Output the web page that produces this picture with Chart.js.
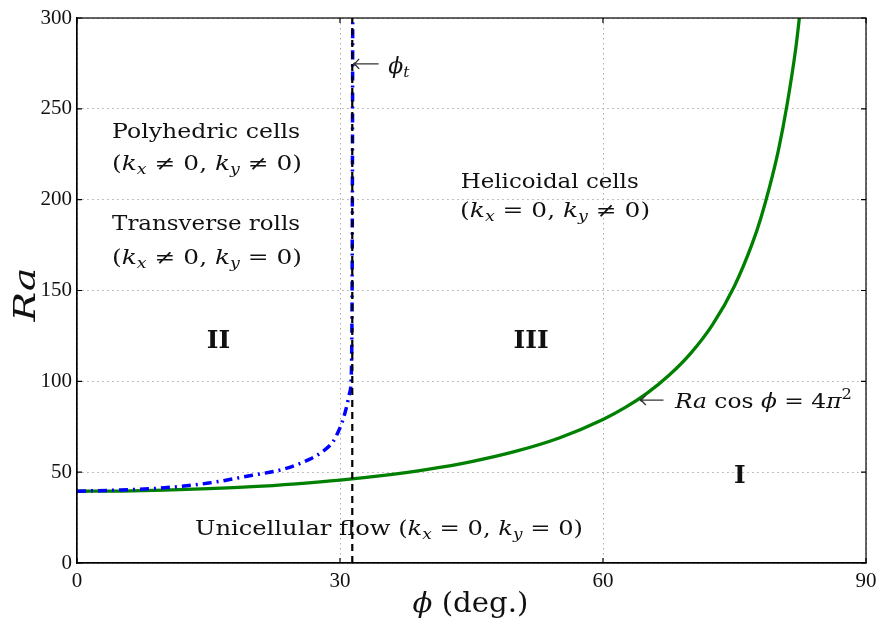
<!DOCTYPE html>
<html>
<head>
<meta charset="utf-8">
<script src="https://cdn.jsdelivr.net/npm/chart.js@4.4.0/dist/chart.umd.min.js"></script>
<style>
  html, body { margin: 0; padding: 0; background: #fff; }
  #wrap { width: 878px; height: 624px; }
</style>
</head>
<body>
<div id="wrap"><canvas id="chart" width="878" height="624"></canvas></div>
<script>
// neutral curve Ra cos(phi) = 4 pi^2
const phiNeutral = [0, 5, 10, 15, 20, 25, 30, 35, 40, 45, 50, 55, 60, 62.5, 65, 67.5, 70, 72.5, 75, 77, 78, 79, 80, 81, 82, 82.4];
const raNeutral  = [39.5, 39.6, 40.1, 40.9, 42.0, 43.6, 45.6, 48.2, 51.5, 55.8, 61.4, 68.8, 79.0, 85.5, 93.4, 103.2, 115.4, 131.2, 152.5, 175.5, 189.8, 207, 227, 252.4, 283.7, 300];

// transition curve (blue dash-dot)
const phiTrans = [0, 5, 10, 15, 20, 23.5, 26.5, 28, 29.2, 29.8, 30.2, 30.7, 31.1, 31.3, 31.38, 31.42, 31.45];
const raTrans  = [39.5, 40.2, 41.4, 44.0, 48.3, 51.6, 57.0, 61.3, 66.8, 72.3, 77.0, 85.0, 93.6, 105, 150, 220, 300];

// phi_t vertical line
const phiT = [31.4, 31.4];
const raT = [0, 300];

const xTicks = [0, 30, 60, 90];
const yTicks = [0, 50, 100, 150, 200, 250, 300];

const TXT = '"DejaVu Serif", serif';
const NUM = '"Liberation Serif", serif';

const toPts = (xs, ys) => xs.map((v, i) => ({ x: v, y: ys[i] }));

// draw a run of text pieces (italic / bold / sub / sup), optionally squeezed to a width
function rich(ctx, segs, x, y, size, width, align) {
  const fontOf = s => {
    const sz = (s.sub || s.sup) ? size * 0.7 : size;
    return (s.i ? 'italic ' : '') + (s.b ? 'bold ' : '') + sz + 'px ' + TXT;
  };
  let w = 0;
  segs.forEach(s => { ctx.font = fontOf(s); w += ctx.measureText(s.t).width; });
  const k = width ? width / w : 1;
  ctx.save();
  const x0 = align === 'center' ? x - w * k / 2 : x;
  ctx.translate(x0, y);
  ctx.scale(k, 1);
  let cx = 0;
  segs.forEach(s => {
    ctx.font = fontOf(s);
    const dy = s.sub ? size * 0.22 : (s.sup ? -size * 0.42 : 0);
    ctx.fillText(s.t, cx, dy);
    cx += ctx.measureText(s.t).width;
  });
  ctx.restore();
}

const kk = (a, b) => [
  { t: '(' }, { t: 'k', i: 1 }, { t: 'x', i: 1, sub: 1 }, { t: ' ' + a + ' 0, ' },
  { t: 'k', i: 1 }, { t: 'y', i: 1, sub: 1 }, { t: ' ' + b + ' 0)' }
];

function arrow(ctx, x1, x2, y) {
  ctx.save();
  ctx.strokeStyle = '#333';
  ctx.lineWidth = 1.3;
  ctx.beginPath();
  ctx.moveTo(x2, y); ctx.lineTo(x1, y);
  ctx.moveTo(x1 + 6, y - 5); ctx.quadraticCurveTo(x1 + 3, y - 1, x1, y);
  ctx.moveTo(x1 + 6, y + 5); ctx.quadraticCurveTo(x1 + 3, y + 1, x1, y);
  ctx.stroke();
  ctx.restore();
}

const decor = {
  id: 'decor',
  afterDraw(chart) {
    const { ctx, chartArea: a, scales: { x, y } } = chart;
    const X = v => x.getPixelForValue(v);
    const Y = v => y.getPixelForValue(v);
    ctx.save();
    // frame + inward ticks
    ctx.strokeStyle = '#000';
    ctx.lineWidth = 1.2;
    ctx.strokeRect(a.left, a.top, a.right - a.left, a.bottom - a.top);
    ctx.beginPath();
    xTicks.forEach(v => {
      ctx.moveTo(X(v), a.bottom); ctx.lineTo(X(v), a.bottom - 5);
      ctx.moveTo(X(v), a.top); ctx.lineTo(X(v), a.top + 5);
    });
    yTicks.forEach(v => {
      ctx.moveTo(a.left, Y(v)); ctx.lineTo(a.left + 5, Y(v));
      ctx.moveTo(a.right, Y(v)); ctx.lineTo(a.right - 5, Y(v));
    });
    ctx.stroke();

    ctx.fillStyle = '#111';
    ctx.textBaseline = 'alphabetic';
    ctx.textAlign = 'left';

    rich(ctx, [{ t: 'Polyhedric cells' }], X(4.0), Y(234), 20, 188);
    rich(ctx, kk('≠', '≠'), X(4.0), Y(216.3), 20, 190);
    rich(ctx, [{ t: 'Transverse rolls' }], X(4.0), Y(183.3), 20, 188);
    rich(ctx, kk('≠', '='), X(4.0), Y(164.6), 20, 190);
    rich(ctx, [{ t: 'Helicoidal cells' }], X(43.77), Y(206.3), 20, 178);
    rich(ctx, kk('=', '≠'), X(43.7), Y(190.5), 20, 190);
    rich(ctx, [{ t: 'Unicellular flow ' }].concat(kk('=', '=')), X(13.46), Y(15.4), 20, 388);

    rich(ctx, [{ t: 'II', b: 1 }], X(16.14), Y(118.3), 25, 0, 'center');
    rich(ctx, [{ t: 'III', b: 1 }], X(51.8), Y(118.3), 25, 0, 'center');
    rich(ctx, [{ t: 'I', b: 1 }], X(75.6), Y(44), 25, 0, 'center');

    arrow(ctx, X(31.5), X(34.4), Y(274.7));
    rich(ctx, [{ t: 'ϕ', i: 1 }, { t: 't', i: 1, sub: 1 }], X(35.5), Y(270), 22, 0);

    arrow(ctx, X(64.2), X(66.9), Y(89.7));
    rich(ctx, [{ t: 'Ra', i: 1 }, { t: ' cos ' }, { t: 'ϕ', i: 1 }, { t: ' = 4' }, { t: 'π', i: 1 }, { t: '2', sup: 1 }],
      X(68.2), Y(85.3), 21, 177);

    // axis titles
    rich(ctx, [{ t: 'ϕ', i: 1 }, { t: ' (deg.)' }], (a.left + a.right) / 2 - 1, 612, 27, 116, 'center');
    ctx.save();
    ctx.translate(35, (a.top + a.bottom) / 2 + 4);
    ctx.rotate(-Math.PI / 2);
    rich(ctx, [{ t: 'Ra', i: 1 }], 0, 0, 30, 54, 'center');
    ctx.restore();
    ctx.restore();
  }
};

new Chart(document.getElementById('chart'), {
  type: 'line',
  data: {
    datasets: [
      {
        data: toPts(phiT, raT),
        borderColor: '#000',
        borderWidth: 2.2,
        borderDash: [7, 5],
        pointRadius: 0,
        order: 0
      },
      {
        data: toPts(phiTrans, raTrans),
        borderColor: '#0000ff',
        borderWidth: 3.5,
        borderDash: [9, 5, 2, 5],
        cubicInterpolationMode: 'monotone',
        pointRadius: 0,
        order: 1
      },
      {
        data: toPts(phiNeutral, raNeutral),
        borderColor: '#008000',
        borderWidth: 3.3,
        cubicInterpolationMode: 'monotone',
        pointRadius: 0,
        order: 2
      }
    ]
  },
  options: {
    responsive: false,
    animation: false,
    layout: { padding: { top: 18, right: 12, left: 0, bottom: 0 } },
    plugins: { legend: { display: false }, tooltip: { enabled: false } },
    scales: {
      x: {
        type: 'linear',
        min: 0, max: 90,
        afterBuildTicks: s => { s.ticks = xTicks.map(v => ({ value: v })); },
        afterFit: s => { s.height = 61; s.paddingLeft = 0; s.paddingRight = 0; },
        grid: { color: '#aaa', lineWidth: 1, drawTicks: false },
        border: { display: true, color: '#000', width: 1.2, dash: [1.5, 3.5] },
        ticks: { color: '#111', font: { family: NUM, size: 21 }, padding: 6, maxRotation: 0 }
      },
      y: {
        type: 'linear',
        min: 0, max: 300,
        afterBuildTicks: s => { s.ticks = yTicks.map(v => ({ value: v })); },
        afterFit: s => { s.width = 77; s.paddingTop = 0; s.paddingBottom = 0; },
        grid: { color: '#aaa', lineWidth: 1, drawTicks: false },
        border: { display: true, color: '#000', width: 1.2, dash: [1.5, 3.5] },
        ticks: { color: '#111', font: { family: NUM, size: 21 }, padding: 5 }
      }
    }
  },
  plugins: [decor]
});
</script>
</body>
</html>
